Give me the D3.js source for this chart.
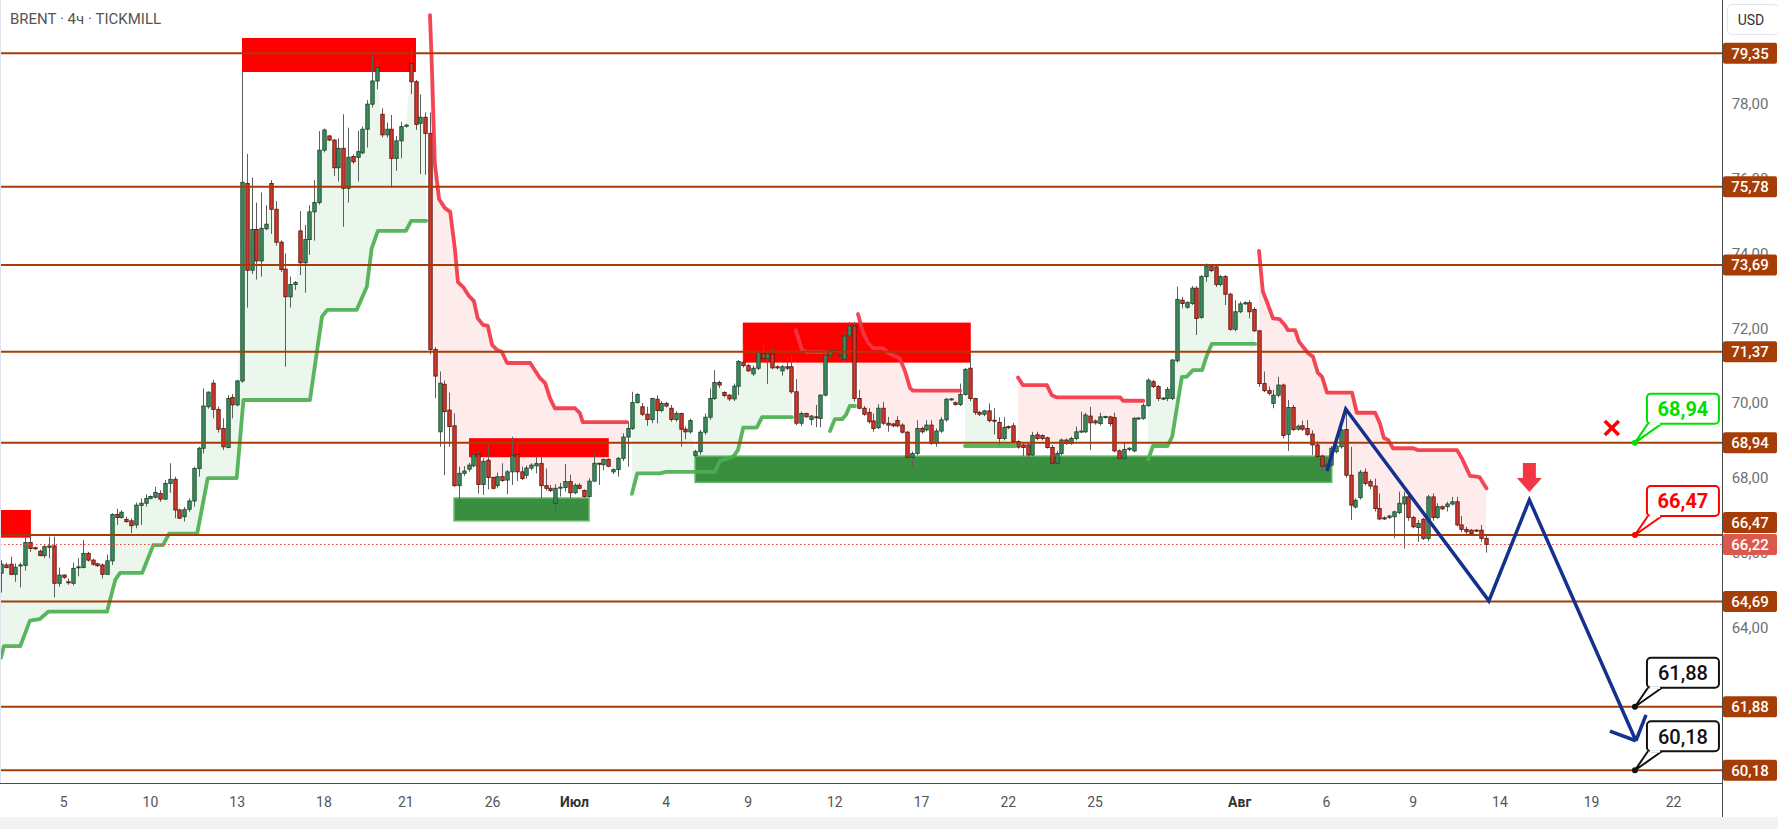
<!DOCTYPE html>
<html><head><meta charset="utf-8">
<script src="https://cdn.jsdelivr.net/npm/d3@7"></script>
<style>html,body{margin:0;padding:0;background:#fff;overflow:hidden}svg{display:block}</style>
</head><body><svg id="c" width="1778" height="829"></svg>
<script>
// ---------- DATA ----------
const title = "BRENT · 4ч · TICKMILL";
// candles: [open, high, low, close], one per 4h bar
const candleOHLC = [
[65.45,65.80,64.93,65.69],[65.67,65.73,65.58,65.60],[65.69,65.89,65.40,65.42],[65.42,65.71,65.22,65.61],[65.65,65.73,65.07,65.67],
[65.66,66.43,65.52,66.27],[66.27,66.50,66.02,66.11],[66.13,66.16,66.08,66.11],[66.04,66.08,65.90,65.92],[65.92,66.20,65.85,66.16],
[66.14,66.43,65.85,66.18],[66.18,66.43,64.80,65.18],[65.18,65.60,65.09,65.40],[65.40,65.42,65.30,65.34],[65.22,65.31,65.14,65.20],
[65.18,65.73,65.12,65.58],[65.60,65.85,65.37,65.62],[65.60,66.34,65.58,65.98],[65.98,66.02,65.76,65.80],[65.80,65.84,65.65,65.69],
[65.70,65.73,65.62,65.65],[65.67,65.71,65.31,65.42],[65.42,65.95,65.40,65.78],[65.78,67.05,65.67,67.02],[67.02,67.17,66.74,66.94],
[66.94,67.13,66.91,67.08],[66.89,66.96,66.80,66.83],[66.85,66.92,66.52,66.72],[66.74,67.34,66.65,67.27],[67.26,67.45,66.74,67.32],
[67.32,67.56,67.23,67.45],[67.45,67.53,67.42,67.50],[67.48,67.76,67.45,67.61],[67.58,67.67,67.36,67.43],[67.43,67.94,67.41,67.85],
[67.85,68.39,67.60,67.96],[67.96,68.03,66.92,67.14],[67.14,67.18,66.90,66.92],[66.96,67.22,66.83,67.15],[67.16,67.45,67.09,67.38],
[67.38,68.30,67.23,68.25],[68.25,68.83,68.03,68.79],[68.79,70.39,68.65,69.92],[69.90,70.31,69.85,70.29],[70.53,70.62,69.59,69.83],
[69.83,69.90,69.21,69.30],[69.32,69.59,68.74,68.83],[68.81,70.21,68.79,70.12],[70.15,70.24,69.59,69.95],[69.95,70.62,69.91,70.59],
[70.59,78.85,70.54,75.90],
[75.87,76.66,72.55,73.55],[73.55,76.03,73.45,74.64],[74.64,75.36,73.30,73.80],[73.80,75.63,73.38,74.67],[74.66,75.29,74.62,74.78],
[75.87,75.96,74.52,75.18],[75.18,75.40,74.21,74.30],[74.30,74.35,73.50,73.57],[73.58,74.00,70.97,72.84],[72.84,73.38,72.55,73.17],
[73.17,73.26,73.02,73.22],[74.60,75.13,73.42,73.75],[73.75,74.76,72.95,74.37],[74.37,75.29,73.96,75.11],[75.11,75.96,74.34,75.36],
[75.36,77.27,75.30,76.76],[76.76,77.34,76.70,77.30],[77.14,77.17,77.00,77.03],[77.03,77.06,76.07,76.29],[76.29,77.08,75.92,76.81],
[76.81,77.72,74.71,75.74],[75.74,77.36,75.36,76.57],[76.59,76.65,76.40,76.45],[76.57,77.28,75.92,76.72],[76.69,77.39,76.65,77.32],
[77.32,78.10,76.83,77.99],[77.99,79.28,77.90,78.61],[78.61,79.15,78.39,78.97],[77.72,77.88,77.10,77.17],[77.17,77.50,77.10,77.32],
[77.32,77.70,75.76,76.54],[76.54,77.14,76.21,77.01],[77.01,77.52,76.54,77.39],[77.40,77.46,77.36,77.43],[79.08,79.48,78.26,78.59],
[78.59,78.64,77.30,77.45],[77.48,78.25,76.12,77.64],[77.64,77.77,76.10,77.21],[77.21,77.77,71.30,71.43],[71.43,71.50,70.13,70.72],
[69.23,70.84,68.83,70.53],[70.50,70.60,68.07,69.77],
[69.81,70.28,68.83,69.37],[69.39,69.72,67.76,67.79],[67.79,68.30,67.32,68.12],[68.12,68.31,68.05,68.18],[68.23,68.40,68.16,68.34],
[68.32,68.70,68.28,68.63],[68.63,68.70,67.58,67.82],[67.82,68.52,67.54,68.44],[68.47,68.88,67.69,68.01],[68.01,68.03,67.69,67.72],
[67.79,68.14,67.72,68.03],[68.03,68.39,67.89,67.93],[67.94,68.21,67.56,68.16],[68.16,69.10,67.81,68.60],[68.63,68.88,67.91,68.16],
[68.16,68.30,67.94,67.98],[68.07,68.33,67.98,68.26],[68.26,68.39,68.20,68.34],[68.32,68.58,68.12,68.38],[68.38,68.58,67.45,67.79],
[67.79,68.25,67.66,67.72],[67.72,67.81,67.62,67.66],[67.32,67.83,67.09,67.72],[67.74,67.86,67.50,67.75],[67.74,68.37,67.63,67.90],
[67.90,68.08,67.45,67.60],[67.60,67.85,67.56,67.80],[67.80,67.86,67.69,67.72],[67.66,67.69,67.47,67.50],[67.50,67.99,67.48,67.91],
[67.91,68.65,67.90,68.39],[68.39,68.40,67.81,68.38],[68.35,68.52,68.20,68.49],[68.49,68.52,68.28,68.31],[68.16,68.25,68.10,68.22],
[68.22,68.56,68.03,68.52],[68.52,69.19,68.45,69.09],[69.09,69.50,68.30,69.32],[69.32,70.30,69.28,70.01],[70.01,70.26,69.99,70.23],
[69.90,70.00,69.65,69.70],[69.70,69.90,69.39,69.56],[69.56,70.14,69.46,70.12],[70.10,70.21,69.46,69.80],[69.80,70.05,69.75,69.99],
[69.99,70.03,69.88,69.92],[69.86,69.95,69.50,69.56],[69.56,69.78,69.50,69.72],[69.72,69.74,68.83,69.30],[69.30,69.37,69.03,69.23],
[69.23,69.58,69.18,69.53],[68.60,68.75,68.55,68.70],[68.70,69.28,68.62,69.22],[69.22,69.72,69.15,69.62],[69.62,70.39,69.55,70.12],
[70.12,70.88,70.08,70.55],[70.55,70.60,70.40,70.48],
[70.28,70.32,70.15,70.20],[70.21,70.24,70.05,70.11],[70.11,70.52,70.05,70.45],[70.45,71.15,70.21,71.11],[71.09,71.60,70.95,71.00],
[71.00,71.04,70.83,70.86],[70.78,71.00,70.72,70.93],[70.93,71.38,70.88,71.35],[71.33,71.60,71.15,71.19],[71.19,71.35,70.51,71.31],
[71.31,71.46,70.90,70.94],[70.97,71.00,70.90,70.94],[70.86,71.02,70.73,70.97],[70.97,71.22,70.88,70.93],[70.97,71.28,70.25,70.30],
[70.30,70.64,69.41,69.46],[69.46,69.77,69.38,69.72],[69.72,69.74,69.61,69.63],[69.56,69.68,69.41,69.65],[69.63,69.95,69.35,69.61],
[69.59,70.23,69.35,70.21],[70.21,71.33,70.18,71.28],[71.28,71.44,71.22,71.40],[71.40,71.48,71.38,71.42],[71.26,71.37,71.20,71.28],
[71.17,71.91,71.10,71.79],[71.79,72.17,71.75,72.06],[72.06,72.17,70.04,70.12],[70.12,70.35,69.83,69.86],[69.86,69.92,69.66,69.70],
[69.75,69.86,69.45,69.50],[69.52,69.72,69.23,69.32],[69.34,69.97,69.30,69.86],[69.86,70.03,69.41,69.46],[69.46,69.63,69.23,69.41],
[69.44,69.47,69.35,69.39],[69.53,69.65,69.35,69.39],[69.41,69.46,69.18,69.22],[69.22,69.25,68.50,68.55],[68.55,68.70,68.30,68.65],
[68.65,69.54,68.60,69.32],[69.32,69.37,69.18,69.23],[69.28,69.54,69.24,69.41],[69.41,69.54,68.88,68.92],[68.92,69.32,68.83,69.25],
[69.25,69.63,69.20,69.55],[69.55,70.14,69.50,70.10],[70.10,70.13,70.06,70.11],[70.01,70.04,69.93,69.96],[69.96,70.52,69.92,70.23],
[70.23,70.93,70.20,70.90],[70.93,71.28,70.05,70.12],[70.12,70.14,69.68,69.75],[69.75,69.79,69.65,69.70],[69.70,69.82,69.65,69.79],
[69.79,69.99,69.48,69.53],[69.54,69.86,69.16,69.53],[69.48,69.62,68.83,69.05],[69.05,69.62,69.00,69.35],[69.37,69.40,69.30,69.34],
[69.39,69.47,68.94,68.97],[68.97,69.00,68.78,68.82],
[68.88,68.92,68.57,68.81],[68.88,68.92,68.52,68.61],[68.61,69.23,68.57,69.13],[69.15,69.23,69.00,69.05],[69.13,69.16,69.00,69.05],
[69.07,69.10,68.78,68.81],[68.81,68.88,68.36,68.39],[68.39,68.72,68.34,68.65],[68.65,69.05,68.60,69.01],[69.01,69.05,68.88,68.92],
[68.92,69.10,68.88,69.05],[69.05,69.37,69.00,69.23],[69.23,69.77,69.20,69.25],[69.23,69.74,69.20,69.68],[69.65,69.90,68.74,69.47],
[69.52,69.56,69.42,69.47],[69.45,69.74,69.40,69.63],[69.62,69.66,69.58,69.64],[69.63,69.66,69.38,69.45],[69.61,69.74,68.68,68.72],
[68.72,68.76,68.49,68.52],[68.52,68.96,68.48,68.76],[68.76,68.82,68.72,68.79],[68.72,69.63,68.68,69.59],[69.59,69.62,69.55,69.60],
[69.59,69.99,69.55,69.93],[69.93,70.66,69.90,70.61],[70.57,70.62,70.40,70.44],[70.44,70.48,70.05,70.12],[70.12,70.16,70.08,70.13],
[70.12,70.43,70.05,70.36],[70.12,71.17,70.08,71.15],[71.13,73.11,71.08,72.77],[72.75,72.84,72.53,72.66],[72.56,72.72,72.52,72.69],
[72.66,73.13,72.62,73.07],[73.07,73.13,71.82,72.26],[72.29,73.42,72.25,73.38],[73.38,73.73,73.24,73.66],[73.66,73.72,73.50,73.54],
[73.64,73.69,73.10,73.17],[73.17,73.42,73.12,73.38],[73.38,73.42,72.62,72.91],[72.91,72.95,71.93,71.97],[71.97,72.75,71.92,72.44],
[72.44,72.71,72.40,72.65],[72.66,72.72,72.62,72.68],[72.68,72.75,72.26,72.44],[72.50,72.56,71.90,71.93],[71.93,71.95,70.43,70.52],
[70.52,70.84,70.29,70.33],[70.33,70.44,70.20,70.26],[69.99,70.35,69.86,70.21],[70.21,70.70,70.15,70.48],[70.48,70.52,69.05,69.13],
[69.16,70.08,68.72,69.88],[69.88,69.95,69.25,69.29],[69.30,69.42,69.26,69.38],[69.39,69.53,69.25,69.30],[69.32,69.55,69.12,69.16],
[69.17,69.27,68.61,68.88],[68.88,68.97,68.50,68.57],[68.58,68.62,68.20,68.31],[68.31,68.45,68.15,68.34],[68.34,68.85,68.30,68.79],
[68.70,68.92,68.65,68.85],[68.83,69.33,68.78,69.28],[69.29,69.81,68.00,68.07],[68.07,68.83,66.87,67.27],[67.22,67.45,67.18,67.40],
[67.47,68.21,67.42,68.15],[68.15,68.25,67.80,67.85],[67.90,67.96,67.70,67.78],[67.78,67.98,67.10,67.18],[67.18,67.58,66.87,66.90],
[66.93,66.97,66.87,66.90],[66.94,67.01,66.90,66.98],[66.96,67.12,66.38,67.09],[67.07,67.63,67.03,67.32],[67.30,67.63,66.11,67.49],
[67.49,67.58,66.85,66.94],[66.94,66.98,66.65,66.69],[66.67,66.87,66.29,66.78],[66.89,66.93,66.34,66.38],[66.38,67.54,66.30,67.49],
[67.49,67.58,66.85,66.94],[66.94,67.32,66.90,67.23],[67.23,67.26,67.14,67.17],[67.23,67.36,67.10,67.30],[67.30,67.49,67.26,67.36],
[67.36,67.49,66.70,66.74],[66.74,66.98,66.55,66.62],[66.62,66.69,66.50,66.56],[66.60,66.63,66.48,66.51],[66.60,66.63,66.55,66.58],
[66.60,66.74,66.29,66.38],[66.38,66.47,66.00,66.22]
];
const lastPrice = 66.22;

// time axis
const dateLabels = ["5","10","13","18","21","26","Июл","4","9","12","17","22","25","Авг","6","9","14","19","22"];
const dateBars   = [13,31,49,67,84,102,119,138,155,173,191,209,227,257,275,293,311,330,347];
const monthLabels = ["Июл","Авг"];

// price axis
const priceTicks = [78,76,74,72,70,68,66,64,62];
const levels = [79.35,75.78,73.69,71.37,68.94,66.47,64.69,61.88,60.18];

// supertrend segments: [bar, price]
const stUp1 = [[0,63.19],[0.6,63.5],[4,63.5],[6,64.18],[8,64.22],[9.8,64.42],[22,64.42],[23.7,65.27],[24.7,65.46],[29.3,65.46],[31.6,66.2],[33.6,66.2],[34.9,66.51],[40.7,66.51],[42.9,67.99],[48.9,67.99],[50.3,70.08],[64.1,70.08],[66.6,72.31],[67.7,72.49],[73.8,72.49],[75.9,73.11],[76.9,74.13],[78.2,74.6],[84,74.6],[85.1,74.87],[88.2,74.87]];
const stDn1 = [[89,80.37],[89.4,78.98],[90,76.41],[90.9,75.45],[92.1,75.21],[93.2,75.11],[94.2,74.09],[94.8,73.23],[95.9,73.10],[97.1,72.86],[98.1,72.73],[98.9,72.27],[100,72.09],[101,72.06],[101.9,71.55],[102.9,71.42],[103.9,71.37],[105,71.07],[109.8,71.07],[111.8,70.67],[112.9,70.53],[113.9,70.13],[114.9,69.86],[119.1,69.86],[120.1,69.73],[120.7,69.49],[129.9,69.49]];
const stUp2 = [[130.9,67.57],[132,68.12],[136.7,68.12],[138,68.16],[148.1,68.16],[149.2,68.46],[151.9,68.56],[152.9,68.74],[154,69.34],[156.8,69.34],[157.9,69.62],[164.1,69.62]];
const stDn2 = [[164.9,71.95],[166.2,71.42],[167.2,71.36],[171,71.36]];
const stUp3 = [[172,69.25],[173,69.57],[174.5,69.57],[175.3,69.68],[176.1,69.92],[177.2,69.92]];
const stDn3 = [[177.8,72.38],[178.8,71.90],[179.9,71.61],[180.9,71.47],[183,71.47],[184,71.34],[186.5,71.19],[187.6,70.84],[188.6,70.40],[189.2,70.33],[199,70.33]];
const stUp4 = [[200,68.85],[210.4,68.85]];
const stDn4 = [[211,70.68],[212,70.48],[217,70.48],[218,70.21],[219.1,70.15],[232.2,70.15],[232.8,70.06],[237,70.06]];
const stUp5 = [[238,68.49],[239,68.85],[242,68.85],[243,69.10],[244,69.90],[245,70.70],[246,70.70],[247.3,70.88],[249.2,70.88],[250.2,71.28],[251.2,71.58],[260.2,71.58]];
const stDn5 = [[261,74.07],[261.8,72.98],[262.9,72.62],[263.9,72.26],[265.3,72.24],[266.4,72.08],[267,71.95],[268.5,71.95],[269.3,71.64],[271.2,71.33],[272.2,71.24],[273.2,70.81],[274.1,70.70],[275.1,70.28],[280.3,70.28],[281.3,69.74],[285.1,69.74],[286.1,69.45],[286.9,69.07],[287.8,69.01],[288.8,68.79],[293,68.79],[294,68.74],[302.1,68.74],[303.1,68.52],[304.8,68.05],[306.2,68.03],[306.8,68.01],[308.2,67.72]];
const stSegments = [["up",stUp1],["dn",stDn1],["up",stUp2],["dn",stDn2],["up",stUp3],["dn",stDn3],["up",stUp4],["dn",stDn4],["up",stUp5],["dn",stDn5]];

// zones: [bar0, bar1, priceLow, priceHigh, kind]
const zones = [
  [50,86.1,78.85,79.76,"supply"],
  [-0.3,6.2,66.40,67.14,"supply"],
  [97.1,126.1,68.55,69.06,"supply"],
  [94,122,66.85,67.46,"demand"],
  [153.9,201.2,71.08,72.15,"supply"],
  [144,276.1,67.88,68.58,"demand"]
];

// forecast path (bar, price)
const forecast = [[275.1,68.18],[279,69.84],[308.7,64.71],[317.1,67.41],[339.2,60.97]];
const arrowArms = [[333.8,61.23],[341.3,61.66]];
const sellMarker = [317.1,67.62];
const crossMarker = [334.2,69.33];
// callouts: [bar, price, text, style]
const callouts = [[339,68.94,"68,94","green"],[339,66.47,"66,47","red"],[339,61.88,"61,88","black"],[339,60.18,"60,18","black"]];

// ---------- DRAW ----------
const W = 1778, H = 829, plotW = 1722, plotH = 783;
const svg = d3.select("#c");
const FONT = "Roboto, 'Open Sans', 'DejaVu Sans', sans-serif";
const x = d3.scaleLinear().domain([0, 357]).range([1, 1721.7]);
const y = d3.scaleLinear().domain([60.18, 79.35]).range([770.3, 53.3]);
const fmt = v => v.toFixed(2).replace(".", ",");

svg.append("rect").attr("width", W).attr("height", H).attr("fill", "#fff");
svg.append("defs").append("clipPath").attr("id","plot").append("rect").attr("width",plotW).attr("height",plotH);
svg.append("defs").append("clipPath").attr("id","paxis").append("rect").attr("x",plotW).attr("width",W-plotW).attr("height",plotH);

const g = svg.append("g").attr("clip-path","url(#plot)");

// supertrend fills
const bodyMid = j => (candleOHLC[j][0] + candleOHLC[j][3]) / 2;
stSegments.forEach(([dir, pts]) => {
  const a = Math.max(0, Math.round(pts[0][0])), b = Math.min(candleOHLC.length-1, Math.round(pts[pts.length-1][0]));
  const back = [];
  for (let j = b; j >= a; j--) back.push([j, bodyMid(j)]);
  const poly = pts.concat(back);
  g.append("path")
    .attr("d", d3.line().x(d => x(d[0])).y(d => y(d[1]))(poly) + "Z")
    .attr("fill", dir === "up" ? "rgba(76,175,80,0.11)" : "rgba(242,54,69,0.10)");
});

// zones
zones.forEach(([b0,b1,p0,p1,kind]) => {
  g.append("rect")
    .attr("x", x(b0)).attr("width", x(b1)-x(b0))
    .attr("y", y(p1)).attr("height", y(p0)-y(p1))
    .attr("fill", kind === "supply" ? "#ff0000" : "#3a8e3f")
    .attr("stroke", kind === "supply" ? "none" : "#62b865")
    .attr("stroke-width", 1.5);
});

// candles
const cg = g.append("g");
candleOHLC.forEach((c, i) => {
  const [o,h,l,cl] = c;
  const up = cl >= o;
  const cx = Math.round(x(i)) + 0.5;
  cg.append("line").attr("x1",cx).attr("x2",cx).attr("y1",y(h)).attr("y2",y(l))
    .attr("stroke","#5e5e5e").attr("stroke-width",1);
  const top = y(Math.max(o,cl)), bot = y(Math.min(o,cl));
  cg.append("rect").attr("x",cx-1.7).attr("width",3.4)
    .attr("y",top).attr("height",Math.max(1,bot-top))
    .attr("fill", up ? "#3c8d5d" : "#d2392b")
    .attr("stroke", up ? "#1f4a30" : "#5e1a12").attr("stroke-width",0.9);
});

// supertrend lines
stSegments.forEach(([dir, pts]) => {
  g.append("path")
    .attr("d", d3.line().x(d => x(d[0])).y(d => y(d[1]))(pts))
    .attr("fill","none")
    .attr("stroke", dir === "up" ? "#4caf50" : "#f23645")
    .attr("stroke-opacity", 0.92)
    .attr("stroke-width", 3.8).attr("stroke-linejoin","round").attr("stroke-linecap","round");
});

// last price dotted line
g.append("line").attr("x1",0).attr("x2",plotW).attr("y1",Math.round(y(lastPrice))+0.5).attr("y2",Math.round(y(lastPrice))+0.5)
  .attr("stroke","#e2473c").attr("stroke-width",1).attr("stroke-dasharray","1.5,2.5");

// horizontal levels
levels.forEach(v => {
  g.append("line").attr("x1",0).attr("x2",plotW).attr("y1",y(v)).attr("y2",y(v))
    .attr("stroke","#a63c06").attr("stroke-width",2);
});

// forecast path
const navy = "#15318f";
g.append("path").attr("d", d3.line().x(d=>x(d[0])).y(d=>y(d[1]))(forecast))
  .attr("fill","none").attr("stroke",navy).attr("stroke-width",3.5).attr("stroke-linejoin","miter");
const tip = forecast[forecast.length-1];
arrowArms.forEach(a => {
  g.append("line").attr("x1",x(a[0])).attr("y1",y(a[1])).attr("x2",x(tip[0])).attr("y2",y(tip[1]))
    .attr("stroke",navy).attr("stroke-width",3.5).attr("stroke-linecap","butt");
});

// sell arrow marker
{
  const tx = x(sellMarker[0]), ty = y(sellMarker[1]);
  g.append("path").attr("d",
    `M${tx-6.5},${ty-29} L${tx+6.5},${ty-29} L${tx+6.5},${ty-14} L${tx+12.5},${ty-14} L${tx},${ty} L${tx-12.5},${ty-14} L${tx-6.5},${ty-14} Z`)
    .attr("fill","#f23645");
}
// cross marker
{
  const cx = x(crossMarker[0]), cy = y(crossMarker[1]);
  [[-7,-7,7,7],[-7,7,7,-7]].forEach(s => g.append("line")
    .attr("x1",cx+s[0]).attr("y1",cy+s[1]).attr("x2",cx+s[2]).attr("y2",cy+s[3])
    .attr("stroke","#ff0000").attr("stroke-width",3.6).attr("stroke-linecap","butt"));
}

// callouts
const coColor = {green:"#00e000", red:"#ff0000", black:"#111111"};
callouts.forEach(([b,p,t,st]) => {
  const col = coColor[st];
  const cx = x(b), cy = y(p);
  const bx = cx + 12, bw = 72, bh = 30, by = cy - 19 - bh;
  g.append("path").attr("d",`M${bx+1},${by+bh} L${cx},${cy} L${bx+15},${by+bh}`)
    .attr("fill","#fff").attr("stroke",col).attr("stroke-width",2).attr("stroke-linejoin","miter");
  g.append("rect").attr("x",bx).attr("y",by).attr("width",bw).attr("height",bh).attr("rx",4)
    .attr("fill","#fff").attr("stroke",col).attr("stroke-width",2);
  g.append("line").attr("x1",bx+2.8).attr("x2",bx+13.2).attr("y1",by+bh).attr("y2",by+bh)
    .attr("stroke","#fff").attr("stroke-width",2.4);
  g.append("circle").attr("cx",cx).attr("cy",cy).attr("r",3).attr("fill",col);
  g.append("text").attr("x",bx+bw/2).attr("y",by+bh/2).attr("dy","0.36em")
    .attr("text-anchor","middle").attr("font-family",FONT).attr("font-size",20)
    .attr("font-weight", st === "black" ? 500 : 700).attr("fill",col).text(t);
});

// title
svg.append("text").attr("x",10).attr("y",19).attr("dy","0.35em").attr("font-family",FONT)
  .attr("font-size",15).attr("fill","#555").text(title);

// frame
svg.append("line").attr("x1",0.5).attr("x2",0.5).attr("y1",0).attr("y2",plotH).attr("stroke","#e0e3eb");
svg.append("line").attr("x1",0).attr("x2",plotW).attr("y1",plotH+0.5).attr("y2",plotH+0.5).attr("stroke","#4a4a4a");
svg.append("line").attr("x1",plotW+0.5).attr("x2",plotW+0.5).attr("y1",0).attr("y2",817).attr("stroke","#4a4a4a");
svg.append("rect").attr("x",0).attr("y",817).attr("width",W).attr("height",H-817).attr("fill","#f2f2f4");

// time axis labels
dateLabels.forEach((t, k) => {
  svg.append("text").attr("x", x(dateBars[k])).attr("y", 802).attr("dy","0.35em")
    .attr("text-anchor","middle").attr("font-family",FONT).attr("font-size",14)
    .attr("font-weight", monthLabels.includes(t) ? 700 : 400)
    .attr("fill", monthLabels.includes(t) ? "#333" : "#555").text(t);
});

// price axis
const pa = svg.append("g").attr("clip-path","url(#paxis)");
const LBL_H = 21;
priceTicks.forEach(v => {
  pa.append("text").attr("x",1750).attr("y",y(v)).attr("dy","0.36em").attr("text-anchor","middle")
    .attr("font-family",FONT).attr("font-size",15).attr("fill","#6f6f6f").text(fmt(v));
});
// level labels, pushed away from the last-price label when they would collide
const yLast = y(lastPrice);
levels.forEach(v => {
  let ly = y(v);
  if (Math.abs(ly - yLast) < LBL_H + 1) ly = ly < yLast ? yLast - LBL_H - 1 : yLast + LBL_H + 1;
  pa.append("rect").attr("x",plotW+1).attr("y",ly-LBL_H/2).attr("width",54).attr("height",LBL_H).attr("rx",2).attr("fill","#a63c06");
  pa.append("text").attr("x",1750).attr("y",ly).attr("dy","0.36em").attr("text-anchor","middle")
    .attr("font-family",FONT).attr("font-size",15).attr("font-weight",500).attr("fill","#fff").text(fmt(v));
});
pa.append("rect").attr("x",plotW+1).attr("y",yLast-LBL_H/2).attr("width",54).attr("height",LBL_H).attr("rx",2).attr("fill","#dd584c");
pa.append("text").attr("x",1750).attr("y",yLast).attr("dy","0.36em").attr("text-anchor","middle")
  .attr("font-family",FONT).attr("font-size",15).attr("font-weight",500).attr("fill","#fff").text(fmt(lastPrice));

// USD badge
svg.append("rect").attr("x",1727.5).attr("y",4.5).attr("width",52).attr("height",30).attr("rx",5)
  .attr("fill","#fff").attr("stroke","#e3e5ea");
svg.append("text").attr("x",1751).attr("y",20).attr("dy","0.36em").attr("text-anchor","middle")
  .attr("font-family",FONT).attr("font-size",14).attr("fill","#333").text("USD");
</script>
</body></html>
